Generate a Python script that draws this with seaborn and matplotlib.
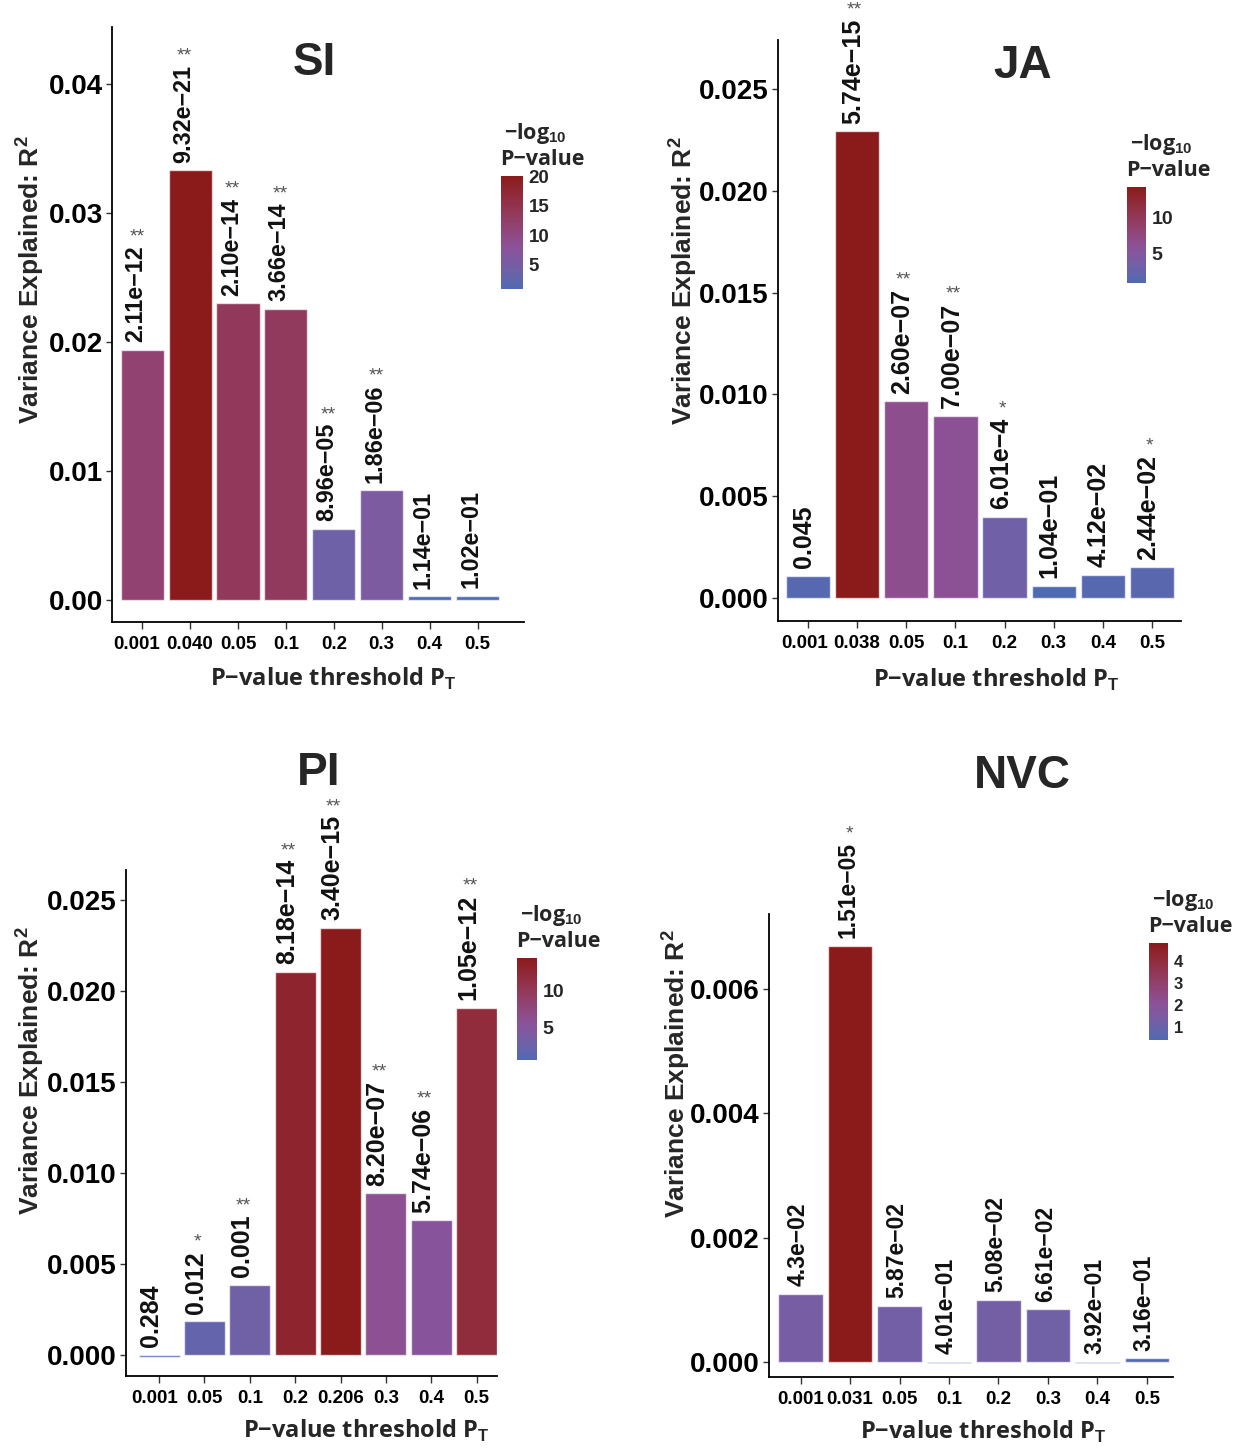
import numpy as np
import pandas as pd
import matplotlib
matplotlib.use("Agg")
import matplotlib.pyplot as plt
import matplotlib.transforms as mtransforms
import seaborn as sns
from matplotlib.colors import ListedColormap, Normalize
from matplotlib.cm import ScalarMappable

# ---------------- data ----------------
si_thresholds = ["0.001", "0.040", "0.05", "0.1", "0.2", "0.3", "0.4", "0.5"]
si_r2 = [0.0194, 0.0333, 0.0230, 0.0226, 0.0055, 0.0085, 0.0003, 0.00035]
si_pvalues = [2.11e-12, 9.32e-21, 2.10e-14, 3.66e-14, 8.96e-05, 1.86e-06, 1.14e-01, 1.02e-01]
si_plabels = ["2.11e−12", "9.32e−21", "2.10e−14", "3.66e−14", "8.96e−05", "1.86e−06", "1.14e−01", "1.02e−01"]
si_stars = ["**", "**", "**", "**", "**", "**", "", ""]
si_yticks = [0.00, 0.01, 0.02, 0.03, 0.04]
si_yticklabels = ["0.00", "0.01", "0.02", "0.03", "0.04"]
si_cbar_ticks = [5, 10, 15, 20]

ja_thresholds = ["0.001", "0.038", "0.05", "0.1", "0.2", "0.3", "0.4", "0.5"]
ja_r2 = [0.00108, 0.02292, 0.00967, 0.00895, 0.0040, 0.0006, 0.00115, 0.0015]
ja_pvalues = [0.045, 5.74e-15, 2.60e-07, 7.00e-07, 6.01e-4, 1.04e-01, 4.12e-02, 2.44e-02]
ja_plabels = ["0.045", "5.74e−15", "2.60e−07", "7.00e−07", "6.01e−4", "1.04e−01", "4.12e−02", "2.44e−02"]
ja_stars = ["", "**", "**", "**", "*", "", "", "*"]
ja_yticks = [0.000, 0.005, 0.010, 0.015, 0.020, 0.025]
ja_yticklabels = ["0.000", "0.005", "0.010", "0.015", "0.020", "0.025"]
ja_cbar_ticks = [5, 10]

pi_thresholds = ["0.001", "0.05", "0.1", "0.2", "0.206", "0.3", "0.4", "0.5"]
pi_r2 = [-0.0001, 0.00186, 0.00386, 0.02104, 0.02346, 0.00888, 0.00741, 0.01908]
pi_pvalues = [0.284, 0.012, 0.001, 8.18e-14, 3.40e-15, 8.20e-07, 5.74e-06, 1.05e-12]
pi_plabels = ["0.284", "0.012", "0.001", "8.18e−14", "3.40e−15", "8.20e−07", "5.74e−06", "1.05e−12"]
pi_stars = ["", "*", "**", "**", "**", "**", "**", "**"]
pi_yticks = [0.000, 0.005, 0.010, 0.015, 0.020, 0.025]
pi_yticklabels = ["0.000", "0.005", "0.010", "0.015", "0.020", "0.025"]
pi_cbar_ticks = [5, 10]

nvc_thresholds = ["0.001", "0.031", "0.05", "0.1", "0.2", "0.3", "0.4", "0.5"]
nvc_r2 = [0.0011, 0.0067, 0.00091, -0.00002, 0.00100, 0.00085, -0.00002, 0.00006]
nvc_pvalues = [4.3e-02, 1.51e-05, 5.87e-02, 4.01e-01, 5.08e-02, 6.61e-02, 3.92e-01, 3.16e-01]
nvc_plabels = ["4.3e−02", "1.51e−05", "5.87e−02", "4.01e−01", "5.08e−02", "6.61e−02", "3.92e−01", "3.16e−01"]
nvc_stars = ["", "*", "", "", "", "", "", ""]
nvc_yticks = [0.000, 0.002, 0.004, 0.006]
nvc_yticklabels = ["0.000", "0.002", "0.004", "0.006"]
nvc_cbar_ticks = [1, 2, 3, 4]

panel_titles = ["SI", "JA", "PI", "NVC"]
xlabel_text = r"P−value threshold P$_{\mathbf{T}}$"
ylabel_text = r"Variance Explained: R$^{\mathbf{2}}$"
cbar_title_1 = r"−log$_{\mathbf{10}}$"
cbar_title_2 = "P−value"

# gradient stops (position, colour)
GRADIENT_STOPS = [(0.0, "#4E6AB2"), (0.37, "#8B5299"), (1.0, "#8B1A1A")]

# ---------------- style ----------------
sns.set_theme(style="white")
plt.rcParams["font.family"] = ["Liberation Sans", "DejaVu Sans"]
plt.rcParams["mathtext.fontset"] = "custom"
plt.rcParams["mathtext.rm"] = "Liberation Sans"
plt.rcParams["mathtext.bf"] = "Liberation Sans:bold"
plt.rcParams["axes.unicode_minus"] = True

W, H = 1247, 1450
fig = plt.figure(figsize=(W / 100, H / 100), dpi=100)
fig.patch.set_facecolor("white")


def fpos(x, y):
    return x / W, 1 - y / H


def px_axes(box):
    x0, y0, x1, y1 = box
    return fig.add_axes([x0 / W, 1 - y1 / H, (x1 - x0) / W, (y1 - y0) / H])


# ---- Lab-space gradient ----
M = np.array([[0.4124564, 0.3575761, 0.1804375],
              [0.2126729, 0.7151522, 0.0721750],
              [0.0193339, 0.1191920, 0.9503041]])
WHITE = np.array([0.95047, 1.0, 1.08883])


def hex_rgb(h):
    h = h.lstrip("#")
    return np.array([int(h[i:i + 2], 16) / 255 for i in (0, 2, 4)])


def rgb_to_lab(rgb):
    lin = np.where(rgb <= 0.04045, rgb / 12.92, ((rgb + 0.055) / 1.055) ** 2.4)
    xyz = M @ lin / WHITE
    d = 6 / 29
    f = np.where(xyz > d ** 3, np.cbrt(xyz), xyz / (3 * d * d) + 4 / 29)
    return np.array([116 * f[1] - 16, 500 * (f[0] - f[1]), 200 * (f[1] - f[2])])


def lab_to_rgb(lab):
    d = 6 / 29
    fy = (lab[0] + 16) / 116
    f = np.array([fy + lab[1] / 500, fy, fy - lab[2] / 200])
    xyz = np.where(f > d, f ** 3, 3 * d * d * (f - 4 / 29)) * WHITE
    lin = np.linalg.solve(M, xyz)
    lin = np.clip(lin, 0, None)
    srgb = np.where(lin <= 0.0031308, 12.92 * lin, 1.055 * lin ** (1 / 2.4) - 0.055)
    return np.clip(srgb, 0, 1)


stop_pos = [s[0] for s in GRADIENT_STOPS]
stop_lab = [rgb_to_lab(hex_rgb(s[1])) for s in GRADIENT_STOPS]


def grad_color(t):
    for k in range(len(stop_pos) - 1):
        if t <= stop_pos[k + 1] or k == len(stop_pos) - 2:
            f = (t - stop_pos[k]) / (stop_pos[k + 1] - stop_pos[k])
            f = min(max(f, 0.0), 1.0)
            return lab_to_rgb(stop_lab[k] + f * (stop_lab[k + 1] - stop_lab[k]))


cmap = ListedColormap([grad_color(t) for t in np.linspace(0, 1, 256)])

panels = [
    dict(cats=si_thresholds, r2=si_r2, p=si_pvalues, labels=si_plabels, stars=si_stars,
         yticks=si_yticks, yticklabels=si_yticklabels, cticks=si_cbar_ticks, title=panel_titles[0],
         box=(112, 27, 524, 622), xlim=(-0.63, 7.97), ylim=(-0.0017, 0.04442),
         cbox=(501, 176, 523, 289), cfs=13.5, lab_fs=16.8, lab_dx=-0.14, first_tick_dx=-6,
         title_xy=(314, 75), ylab_xy=(30, 280), xlab_xy=(333, 686)),
    dict(cats=ja_thresholds, r2=ja_r2, p=ja_pvalues, labels=ja_plabels, stars=ja_stars,
         yticks=ja_yticks, yticklabels=ja_yticklabels, cticks=ja_cbar_ticks, title=panel_titles[1],
         box=(778, 40, 1181, 621), xlim=(-0.61, 7.59), ylim=(-0.00113, 0.02741),
         cbox=(1127, 187, 1146, 283), cfs=14, lab_fs=18.0, lab_dx=-0.08, first_tick_dx=-3,
         title_xy=(1023, 78), ylab_xy=(683, 281), xlab_xy=(996, 687)),
    dict(cats=pi_thresholds, r2=pi_r2, p=pi_pvalues, labels=pi_plabels, stars=pi_stars,
         yticks=pi_yticks, yticklabels=pi_yticklabels, cticks=pi_cbar_ticks, title=panel_titles[2],
         box=(126, 870, 497, 1376), xlim=(-0.73, 7.45), ylim=(-0.00115, 0.02665),
         cbox=(517, 958, 537, 1060), cfs=14, lab_fs=18.0, lab_dx=-0.18, first_tick_dx=-4,
         title_xy=(319, 785), ylab_xy=(30, 1071), xlab_xy=(366, 1438)),
    dict(cats=nvc_thresholds, r2=nvc_r2, p=nvc_pvalues, labels=nvc_plabels, stars=nvc_stars,
         yticks=nvc_yticks, yticklabels=nvc_yticklabels, cticks=nvc_cbar_ticks, title=panel_titles[3],
         box=(769, 914, 1173, 1377), xlim=(-0.64, 7.53), ylim=(-0.00024, 0.00721),
         cbox=(1149, 943, 1168, 1040), cfs=12, lab_fs=16.5, lab_dx=-0.05, first_tick_dx=0,
         title_xy=(1022, 788), ylab_xy=(676, 1074), xlab_xy=(983, 1439)),
]

for P in panels:
    ax = px_axes(P["box"])
    logp = -np.log10(np.array(P["p"]))
    norm = Normalize(vmin=logp.min(), vmax=logp.max())
    colors = [cmap(norm(v)) for v in logp]
    df = pd.DataFrame({"threshold": P["cats"], "r2": P["r2"]})
    sns.barplot(data=df, x="threshold", y="r2", hue="threshold", order=P["cats"],
                hue_order=P["cats"], palette=colors, saturation=1, width=0.9,
                errorbar=None, legend=False, edgecolor=(1, 1, 1, 0.65), linewidth=1.0, ax=ax)
    ax.set_xlim(*P["xlim"])
    ax.set_ylim(*P["ylim"])
    ax.set_xlabel("")
    ax.set_ylabel("")
    ax.set_facecolor("none")
    for s in ("top", "right"):
        ax.spines[s].set_visible(False)
    for s in ("left", "bottom"):
        ax.spines[s].set_color("black")
        ax.spines[s].set_linewidth(1.3)
    ax.set_yticks(P["yticks"])
    ax.set_yticklabels(P["yticklabels"], fontsize=20, fontweight="bold", color="black")
    ax.tick_params(axis="y", length=4, width=1.0, color="#333333", pad=2.5, left=True)
    ax.tick_params(axis="x", length=5, width=1.0, color="#333333", pad=5, bottom=True)
    xtl = ax.get_xticklabels()
    for t in xtl:
        t.set_fontsize(13.5)
        t.set_fontweight("bold")
        t.set_color("black")
    if P["first_tick_dx"]:
        shift = mtransforms.ScaledTranslation(P["first_tick_dx"] / 100, 0, fig.dpi_scale_trans)
        xtl[0].set_transform(xtl[0].get_transform() + shift)

    # p-value labels and significance stars
    for i, (v, lab, st) in enumerate(zip(P["r2"], P["labels"], P["stars"])):
        txt = ax.annotate(lab, xy=(i + P["lab_dx"], max(v, 0)), xytext=(0, 5.5),
                          textcoords="offset points", rotation=90, ha="center", va="bottom",
                          fontsize=P["lab_fs"], fontweight="bold", color="#111111",
                          annotation_clip=False)
        if st:
            ax.annotate(st, xy=(0.5, 1.0), xycoords=txt, xytext=(1, 0),
                        textcoords="offset points", ha="center", va="bottom",
                        fontsize=14, color="#555555")

    # colorbar
    cax = px_axes(P["cbox"])
    sm = ScalarMappable(norm=norm, cmap=cmap)
    cb = fig.colorbar(sm, cax=cax)
    cb.outline.set_visible(False)
    cb.set_ticks(P["cticks"])
    cb.set_ticklabels([str(t) for t in P["cticks"]])
    cax.tick_params(axis="y", direction="in", color="white", length=3, width=0.8,
                    left=True, right=True, labelleft=False, labelright=True, pad=4)
    for t in cax.get_yticklabels():
        t.set_fontsize(P["cfs"])
        t.set_fontweight("bold")
    cx0, cy0 = P["cbox"][0], P["cbox"][1]
    fig.text(*fpos(cx0 + 3, cy0 - 37), cbar_title_1, ha="left", va="baseline",
             fontsize=15.5, fontweight="bold", family=["Open Sans", "DejaVu Sans"])
    fig.text(*fpos(cx0 - 1, cy0 - 11), cbar_title_2, ha="left", va="baseline",
             fontsize=15.5, fontweight="bold", family=["Open Sans", "DejaVu Sans"])

    # titles and axis labels
    fig.text(*fpos(*P["title_xy"]), P["title"], ha="center", va="baseline",
             fontsize=33, fontweight="bold")
    fig.text(*fpos(*P["ylab_xy"]), ylabel_text, rotation=90, ha="center", va="center",
             fontsize=19, fontweight="bold")
    fig.text(*fpos(*P["xlab_xy"]), xlabel_text, ha="center", va="baseline",
             fontsize=17, fontweight="bold", family=["Open Sans", "DejaVu Sans"])

fig.savefig("out.png", dpi=100, facecolor="white")
